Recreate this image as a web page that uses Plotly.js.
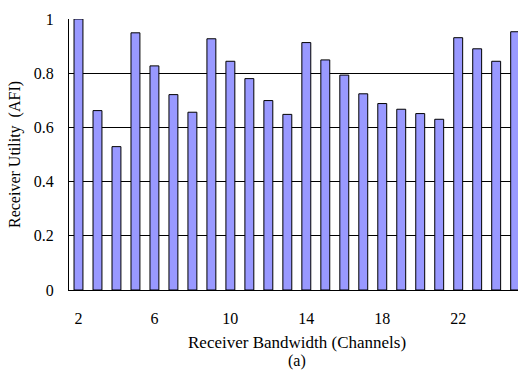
<!DOCTYPE html>
<html>
<head>
<meta charset="utf-8">
<script src="https://cdn.plot.ly/plotly-3.0.1.min.js"></script>
<style>html,body{margin:0;padding:0;background:#fff;}#chart{width:518px;height:372px;}</style>
</head>
<body>
<div id="chart"></div>
<script>
const bandwidth = [2,3,4,5,6,7,8,9,10,11,12,13,14,15,16,17,18,19,20,21,22,23,24,25];
const utility = [1.0,0.662,0.529,0.949,0.827,0.721,0.656,0.927,0.844,0.780,0.699,0.648,0.913,0.849,0.793,0.724,0.688,0.667,0.651,0.630,0.931,0.890,0.844,0.953];
const xTicks = [2,6,10,14,18,22];
const yTicks = [0,0.2,0.4,0.6,0.8,1];
const yTickLabels = ['0','0.2','0.4','0.6','0.8','1'];

const font = {family: '"Liberation Serif", "Times New Roman", serif', color: '#000'};

const trace = {
  type: 'bar',
  x: bandwidth,
  y: utility,
  width: 0.47,
  marker: {color: '#9999FF', line: {color: '#000', width: 1}},
  hoverinfo: 'none'
};

const layout = {
  width: 518, height: 372,
  margin: {l: 69, r: 0, t: 19, b: 82, pad: 0},
  paper_bgcolor: '#fff', plot_bgcolor: '#fff',
  showlegend: false,
  font: Object.assign({size: 16}, font),
  xaxis: {
    range: [1.5, 25.15],
    tickvals: xTicks, ticktext: xTicks.map(String),
    showgrid: false, zeroline: false,
    showline: true, linecolor: '#000', linewidth: 1,
    ticks: '', ticklen: 0,
    ticklabelstandoff: 14,
    tickfont: Object.assign({size: 16}, font)
  },
  yaxis: {
    range: [0, 1],
    tickvals: yTicks, ticktext: yTickLabels,
    showgrid: true, gridcolor: '#000', gridwidth: 1,
    zeroline: false,
    showline: true, linecolor: '#000', linewidth: 1,
    ticks: '', ticklen: 0,
    ticklabelstandoff: 11,
    tickfont: Object.assign({size: 16}, font),
    title: {text: 'Receiver Utility  (AFI)', font: Object.assign({size: 16}, font), standoff: 9}
  },
  annotations: [
    {xref: 'x', yref: 'paper', x: 13.5, y: 0, yshift: -52, text: 'Receiver Bandwidth (Channels)',
     showarrow: false, font: Object.assign({size: 17}, font), xanchor: 'center', yanchor: 'middle'},
    {xref: 'x', yref: 'paper', x: 13.5, y: 0, yshift: -71, text: '(a)',
     showarrow: false, font: Object.assign({size: 16}, font), xanchor: 'center', yanchor: 'middle'}
  ]
};

Plotly.newPlot('chart', [trace], layout, {displayModeBar: false, staticPlot: true});
</script>
</body>
</html>
